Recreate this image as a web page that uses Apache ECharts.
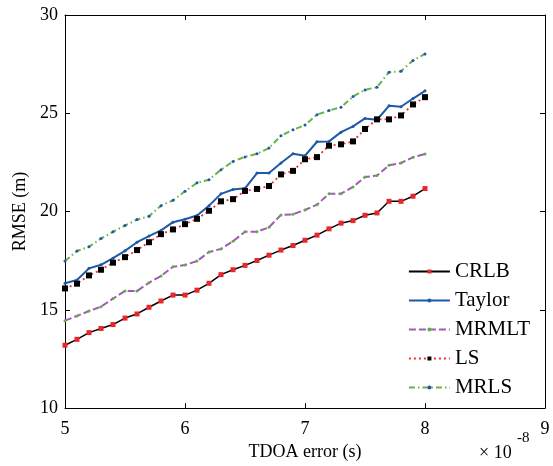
<!DOCTYPE html>
<html>
<head>
<meta charset="utf-8">
<script src="https://cdn.jsdelivr.net/npm/echarts@6/dist/echarts.min.js"></script>
<style>
  html, body { margin: 0; padding: 0; background: #fff; }
  #chart { width: 553px; height: 466px; }
</style>
</head>
<body>
<div id="chart"></div>
<script>
// TDOA error, in units of 1e-8 s
const tdoa = [5.0, 5.1, 5.2, 5.3, 5.4, 5.5, 5.6, 5.7, 5.8, 5.9, 6.0,
  6.1, 6.2, 6.3, 6.4, 6.5, 6.6, 6.7, 6.8, 6.9, 7.0,
  7.1, 7.2, 7.3, 7.4, 7.5, 7.6, 7.7, 7.8, 7.9, 8.0];

const crlb = [13.2, 13.5, 13.84, 14.05, 14.25, 14.58, 14.79, 15.13, 15.45, 15.75, 15.75,
  16.0, 16.35, 16.79, 17.04, 17.26, 17.51, 17.78, 18.04, 18.27, 18.54,
  18.8, 19.12, 19.41, 19.54, 19.81, 19.93, 20.52, 20.52, 20.78, 21.17];
const taylor = [16.35, 16.52, 17.11, 17.29, 17.63, 18.0, 18.44, 18.75, 19.04, 19.46, 19.61,
  19.8, 20.3, 20.9, 21.12, 21.18, 21.96, 21.96, 22.47, 22.94, 22.84,
  23.55, 23.57, 24.04, 24.33, 24.74, 24.67, 25.38, 25.33, 25.75, 26.14];
const mrmlt = [14.45, 14.69, 14.94, 15.16, 15.57, 15.96, 15.96, 16.38, 16.72, 17.19, 17.28,
  17.48, 17.94, 18.1, 18.49, 18.97, 18.97, 19.2, 19.83, 19.86, 20.08,
  20.35, 20.91, 20.91, 21.25, 21.76, 21.83, 22.35, 22.47, 22.76, 22.93];
const ls = [16.09, 16.33, 16.75, 17.04, 17.4, 17.68, 18.04, 18.44, 18.85, 19.09, 19.36,
  19.63, 20.04, 20.52, 20.63, 21.05, 21.15, 21.3, 21.89, 22.07, 22.66,
  22.77, 23.35, 23.42, 23.57, 24.2, 24.69, 24.69, 24.89, 25.45, 25.82];
const mrls = [17.48, 17.99, 18.21, 18.63, 18.97, 19.29, 19.59, 19.76, 20.3, 20.57, 21.03,
  21.46, 21.62, 22.13, 22.55, 22.78, 22.94, 23.23, 23.86, 24.16, 24.4,
  24.93, 25.14, 25.31, 25.85, 26.19, 26.33, 27.09, 27.14, 27.68, 28.02];

const seriesNames = ['CRLB', 'Taylor', 'MRMLT', 'LS', 'MRLS'];

const font = 'Liberation Serif, Times New Roman, serif';
const pair = (ys) => tdoa.map((x, i) => [x, ys[i]]);

const chart = echarts.init(document.getElementById('chart'));

const axisCommon = {
  type: 'value',
  axisLine: { show: true, lineStyle: { color: '#000', width: 1 } },
  axisTick: { show: true, inside: true, length: 5, lineStyle: { color: '#000' } },
  splitLine: { show: false },
  axisLabel: { color: '#000', fontFamily: font, fontSize: 18 }
};

chart.setOption({
  animation: false,
  backgroundColor: '#fff',
  grid: { left: 65, right: 8, top: 15, bottom: 57 },
  xAxis: [
    Object.assign({}, axisCommon, {
      min: 5, max: 9, interval: 1, position: 'bottom',
      axisLabel: Object.assign({}, axisCommon.axisLabel, { margin: 12 }),
      name: 'TDOA error (s)', nameLocation: 'middle', nameGap: 29,
      nameTextStyle: { color: '#000', fontFamily: font, fontSize: 18 }
    }),
    Object.assign({}, axisCommon, {
      min: 5, max: 9, interval: 1, position: 'top',
      axisLabel: { show: false }
    })
  ],
  yAxis: [
    Object.assign({}, axisCommon, {
      min: 10, max: 30, interval: 5, position: 'left',
      axisLabel: Object.assign({}, axisCommon.axisLabel, { margin: 7 }),
      name: 'RMSE (m)', nameLocation: 'middle', nameGap: 35,
      nameTextStyle: { color: '#000', fontFamily: font, fontSize: 18 }
    }),
    Object.assign({}, axisCommon, {
      min: 10, max: 30, interval: 5, position: 'right',
      axisLabel: { show: false }
    })
  ],
  legend: {
    orient: 'vertical',
    right: 18, top: 256,
    itemWidth: 41, itemHeight: 5, itemGap: 8,
    textStyle: { color: '#000', fontFamily: font, fontSize: 21 },
    data: seriesNames
  },
  graphic: [
    { type: 'text', left: 479, top: 444,
      style: { text: '× 10', fill: '#000', font: '18px ' + font } },
    { type: 'text', left: 517, top: 431,
      style: { text: '-8', fill: '#000', font: '15px ' + font } }
  ],
  series: [
    {
      name: 'CRLB', type: 'line', data: pair(crlb), z: 5,
      symbol: 'rect', symbolSize: 5, showAllSymbol: true,
      lineStyle: { color: '#000', width: 1.5 },
      itemStyle: { color: '#e8262b', borderWidth: 0 }
    },
    {
      name: 'Taylor', type: 'line', data: pair(taylor), z: 4,
      symbol: 'circle', symbolSize: 3, showAllSymbol: true,
      lineStyle: { color: '#1f58a8', width: 2 },
      itemStyle: { color: '#1f58a8', borderWidth: 0 }
    },
    {
      name: 'MRMLT', type: 'line', data: pair(mrmlt), z: 3,
      symbol: 'circle', symbolSize: 3, showAllSymbol: true,
      lineStyle: { color: '#a25bb5', width: 2, type: [7, 3] },
      itemStyle: { color: '#5cb040', borderWidth: 0 }
    },
    {
      name: 'LS', type: 'line', data: pair(ls), z: 6,
      symbol: 'rect', symbolSize: 6, showAllSymbol: true,
      lineStyle: { color: '#ee3030', width: 1.8, type: [2, 3] },
      itemStyle: { color: '#000', borderWidth: 0 }
    },
    {
      name: 'MRLS', type: 'line', data: pair(mrls), z: 3,
      symbol: 'circle', symbolSize: 3, showAllSymbol: true,
      lineStyle: { color: '#66b34a', width: 2, type: [6, 3, 1.5, 3] },
      itemStyle: { color: '#1f58a8', borderWidth: 0 }
    }
  ]
});
</script>
</body>
</html>
